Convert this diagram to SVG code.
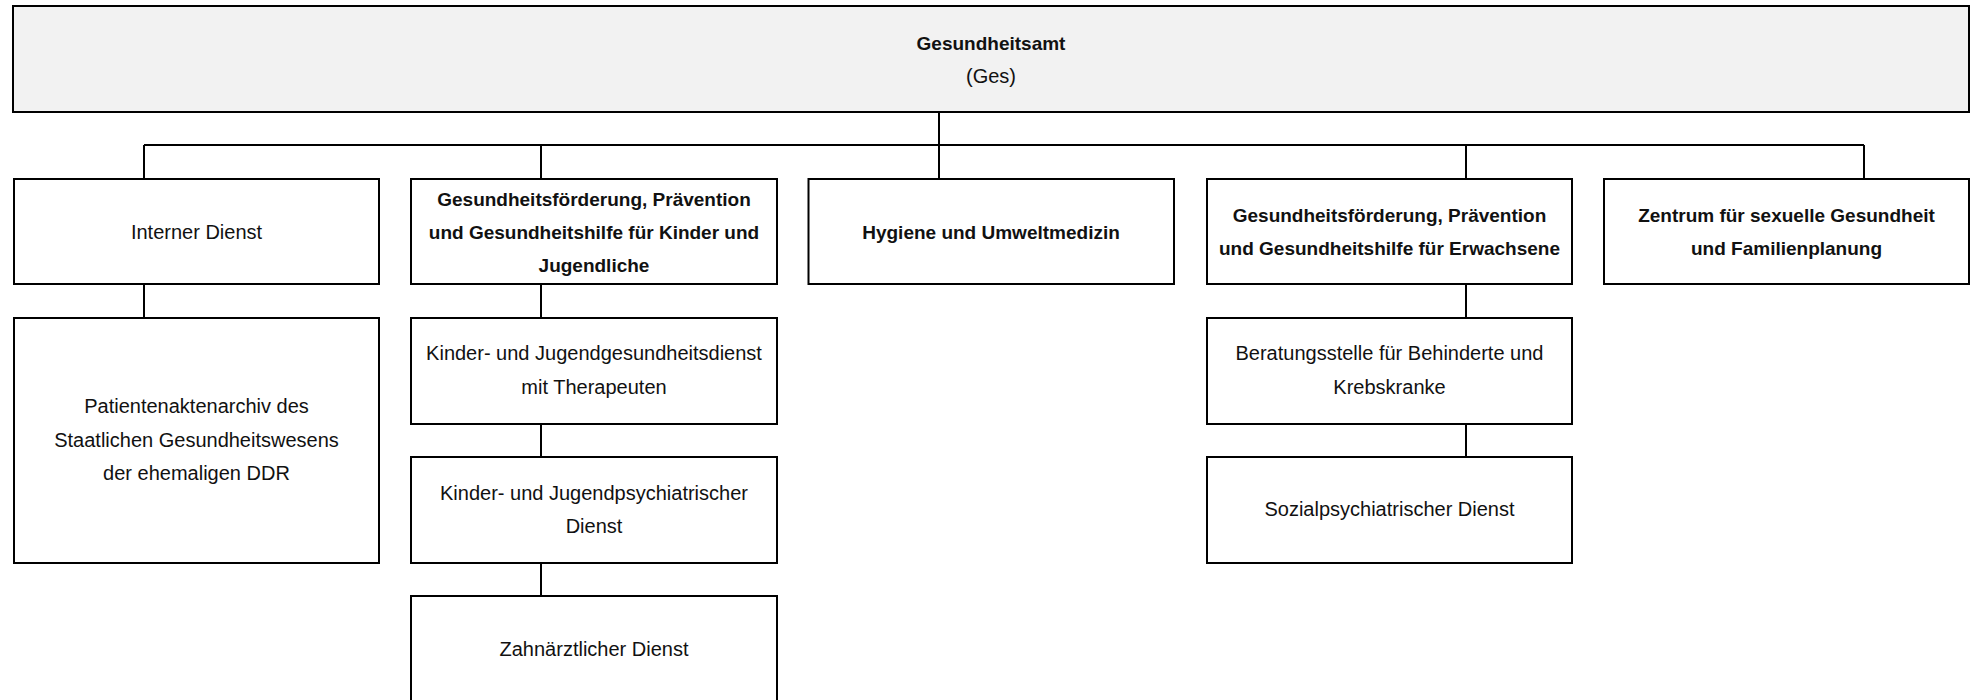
<svg xmlns="http://www.w3.org/2000/svg" width="1971" height="700" viewBox="0 0 1971 700">
<style>
.box{fill:#ffffff;stroke:#000;stroke-width:2}
.root{fill:#f2f2f2;stroke:#000;stroke-width:2}
.con{fill:none;stroke:#000;stroke-width:2}
text{font-family:"Liberation Sans",Arial,sans-serif;fill:#111;text-anchor:middle}
.r{font-size:20px}
.b{font-size:19px;font-weight:bold}
</style>
<rect width="1971" height="700" fill="#ffffff"/>
<g id="connectors">
<path class="con" d="M939 112V145M144 145H1864M144 145V179M541 145V179M939 145V179M1466 145V179M1864 145V179"/>
<path class="con" d="M144 284V318M541 284V318M541 424V457M541 563V596M1466 284V318M1466 424V457"/>
</g>
<g id="ges">
<rect class="root" x="13" y="6" width="1956" height="106"/>
<text class="b" x="991" y="50">Gesundheitsamt</text>
<text class="r" x="991" y="83">(Ges)</text>
</g>
<g id="interner-dienst">
<rect class="box" x="14" y="179" width="365" height="105"/>
<text class="r" x="196.5" y="239">Interner Dienst</text>
</g>
<g id="patientenaktenarchiv">
<rect class="box" x="14" y="318" width="365" height="245"/>
<text class="r" x="196.5" y="413">Patientenaktenarchiv des</text>
<text class="r" x="196.5" y="447">Staatlichen Gesundheitswesens</text>
<text class="r" x="196.5" y="480">der ehemaligen DDR</text>
</g>
<g id="gf-kinder">
<rect class="box" x="411" y="179" width="366" height="105"/>
<text class="b" x="594" y="206">Gesundheitsförderung, Prävention</text>
<text class="b" x="594" y="239">und Gesundheitshilfe für Kinder und</text>
<text class="b" x="594" y="272">Jugendliche</text>
</g>
<g id="kjgd">
<rect class="box" x="411" y="318" width="366" height="106"/>
<text class="r" x="594" y="360">Kinder- und Jugendgesundheitsdienst</text>
<text class="r" x="594" y="394">mit Therapeuten</text>
</g>
<g id="kjpd">
<rect class="box" x="411" y="457" width="366" height="106"/>
<text class="r" x="594" y="500">Kinder- und Jugendpsychiatrischer</text>
<text class="r" x="594" y="533">Dienst</text>
</g>
<g id="zahn">
<rect class="box" x="411" y="596" width="366" height="106"/>
<text class="r" x="594" y="656">Zahnärztlicher Dienst</text>
</g>
<g id="hygiene">
<rect class="box" x="808.5" y="179" width="365.5" height="105"/>
<text class="b" x="991" y="239">Hygiene und Umweltmedizin</text>
</g>
<g id="gf-erwachsene">
<rect class="box" x="1207" y="179" width="365" height="105"/>
<text class="b" x="1389.5" y="222">Gesundheitsförderung, Prävention</text>
<text class="b" x="1389.5" y="255">und Gesundheitshilfe für Erwachsene</text>
</g>
<g id="beratung">
<rect class="box" x="1207" y="318" width="365" height="106"/>
<text class="r" x="1389.5" y="360">Beratungsstelle für Behinderte und</text>
<text class="r" x="1389.5" y="394">Krebskranke</text>
</g>
<g id="sozial">
<rect class="box" x="1207" y="457" width="365" height="106"/>
<text class="r" x="1389.5" y="516">Sozialpsychiatrischer Dienst</text>
</g>
<g id="zentrum">
<rect class="box" x="1604" y="179" width="365" height="105"/>
<text class="b" x="1786.5" y="222">Zentrum für sexuelle Gesundheit</text>
<text class="b" x="1786.5" y="255">und Familienplanung</text>
</g>
</svg>
